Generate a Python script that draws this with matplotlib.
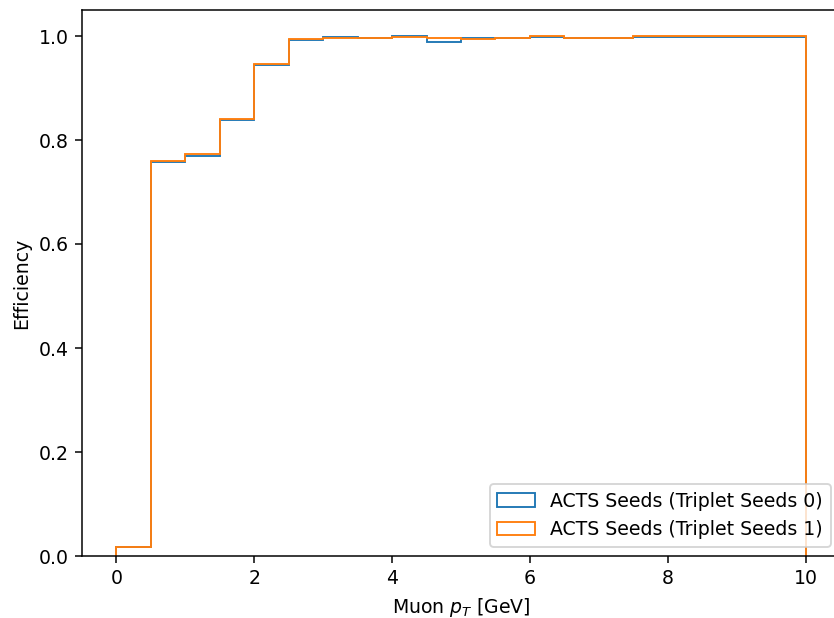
import matplotlib
matplotlib.use("Agg")
import matplotlib.pyplot as plt
import numpy as np

# bin edges in muon pT [GeV]
bin_edges = np.arange(0, 10.5, 0.5)

# efficiency per bin
eff_seeds0 = [0.018, 0.757, 0.770, 0.838, 0.945, 0.992, 0.998, 0.997, 1.000, 0.989,
              0.997, 0.997, 0.999, 0.997, 0.997, 0.999, 0.999, 0.999, 0.999, 0.999]
eff_seeds1 = [0.018, 0.760, 0.773, 0.840, 0.947, 0.994, 0.997, 0.997, 0.999, 0.997,
              0.995, 0.997, 1.000, 0.997, 0.997, 1.000, 1.000, 1.000, 1.000, 1.000]

labels = ["ACTS Seeds (Triplet Seeds 0)", "ACTS Seeds (Triplet Seeds 1)"]

dpi = 136
W, H = 834, 618
fig = plt.figure(figsize=(W / dpi, H / dpi), dpi=dpi)
# the original picture is cropped on the right, so the axes run past the edge
ax = fig.add_axes([82 / W, (H - 556) / H, (840 - 82) / W, (556 - 10) / H])

centers = bin_edges[:-1] + 0.25
ax.hist(centers, bins=bin_edges, weights=eff_seeds0, histtype="step", label=labels[0])
ax.hist(centers, bins=bin_edges, weights=eff_seeds1, histtype="step", label=labels[1])

ax.set_xlim(-0.5, 10.5)
ax.set_ylim(0, 1.05)
ax.set_xlabel("Muon $p_T$ [GeV]")
ax.set_ylabel("Efficiency")
ax.legend(loc="lower right")

fig.savefig("out.png", dpi=dpi)
